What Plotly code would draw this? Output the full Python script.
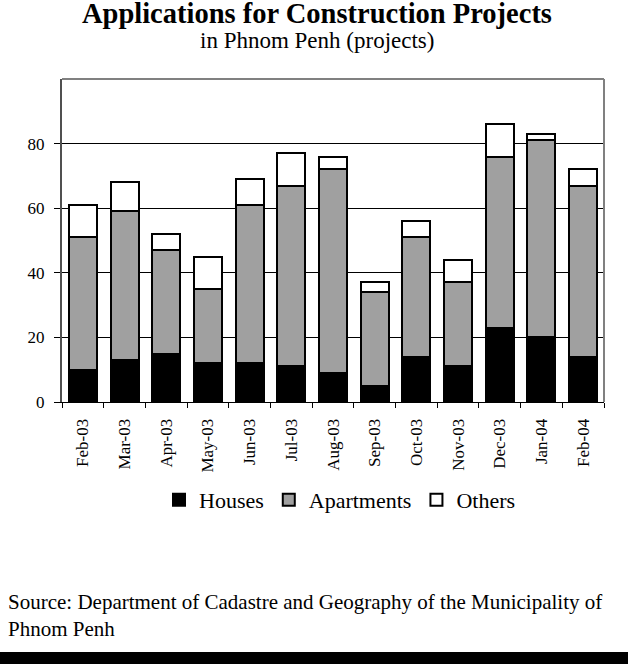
import plotly.graph_objects as go

months = ["Feb-03", "Mar-03", "Apr-03", "May-03", "Jun-03", "Jul-03", "Aug-03",
          "Sep-03", "Oct-03", "Nov-03", "Dec-03", "Jan-04", "Feb-04"]
houses = [10, 13, 15, 12, 12, 11, 9, 5, 14, 11, 23, 20, 14]
apartments = [41, 46, 32, 23, 49, 56, 63, 29, 37, 26, 53, 61, 53]
others = [10, 9, 5, 10, 8, 10, 4, 3, 5, 7, 10, 2, 5]
y_ticks = [0, 20, 40, 60, 80]

FONT = "Liberation Serif, Times New Roman, Tinos, Times, serif"
# plot area in pixels
L, R, T, B = 62, 24, 79, 262
W, H = 628, 664
PW = W - L - R
PH = H - T - B


def px(xp):
    return (xp - L) / PW


def py(yp):
    return (H - B - yp) / PH


fig = go.Figure()
for name, vals, col in [("Houses", houses, "#000000"),
                        ("Apartments", apartments, "#a0a0a0"),
                        ("Others", others, "#ffffff")]:
    fig.add_trace(go.Bar(x=months, y=vals, name=name,
                         marker=dict(color=col, line=dict(color="#000000", width=2))))

fig.update_layout(
    width=W, height=H,
    margin=dict(l=L, r=R, t=T, b=B, pad=0, autoexpand=False),
    barmode="stack", bargap=0.33,
    plot_bgcolor="white", paper_bgcolor="white",
    font=dict(family=FONT, color="black", size=17),
    showlegend=True,
    legend=dict(orientation="h", x=px(340), xanchor="center", y=py(500), yanchor="middle",
                font=dict(family=FONT, size=22), traceorder="normal",
                itemwidth=30, bgcolor="rgba(0,0,0,0)"),
    xaxis=dict(type="category", showline=True, linecolor="black", linewidth=1,
               ticks="outside", ticklen=5, tickcolor="black", tickson="boundaries",
               tickangle=-90, tickfont=dict(family=FONT, size=17), automargin=False,
               showgrid=False, zeroline=False, ticklabelstandoff=9),
    yaxis=dict(range=[0, 100], tickvals=y_ticks, showline=True, linecolor="#505050",
               linewidth=2, ticks="outside", ticklen=6, tickcolor="black", automargin=False,
               showgrid=True, gridcolor="black", gridwidth=1, zeroline=False,
               tickfont=dict(family=FONT, size=17), ticklabelstandoff=6),
)

# top and right frame in grey
fig.add_shape(type="line", xref="paper", yref="paper", x0=0, x1=1, y0=1, y1=1,
              line=dict(color="#808080", width=2))
fig.add_shape(type="line", xref="paper", yref="paper", x0=1, x1=1, y0=0, y1=1,
              line=dict(color="#808080", width=2))
# bottom black band
fig.add_shape(type="rect", xref="paper", yref="paper", x0=px(0), x1=px(W),
              y0=py(H), y1=py(652), fillcolor="black", line=dict(width=0))

fig.add_annotation(text="<b>Applications for Construction Projects</b>", xref="paper", yref="paper",
                   x=px(317), y=py(14), xanchor="center", yanchor="middle", showarrow=False,
                   font=dict(family=FONT, size=28.5))
fig.add_annotation(text="in Phnom Penh (projects)", xref="paper", yref="paper",
                   x=px(317), y=py(41), xanchor="center", yanchor="middle", showarrow=False,
                   font=dict(family=FONT, size=23))
fig.add_annotation(text="Source: Department of Cadastre and Geography of the Municipality of<br>Phnom Penh",
                   xref="paper", yref="paper", x=px(6), y=py(588), xanchor="left", yanchor="top",
                   align="left", showarrow=False, font=dict(family=FONT, size=21))

fig.write_html("out.html", config={"displayModeBar": False},
               post_script="document.body.style.margin='0';document.body.style.overflow='hidden';")
